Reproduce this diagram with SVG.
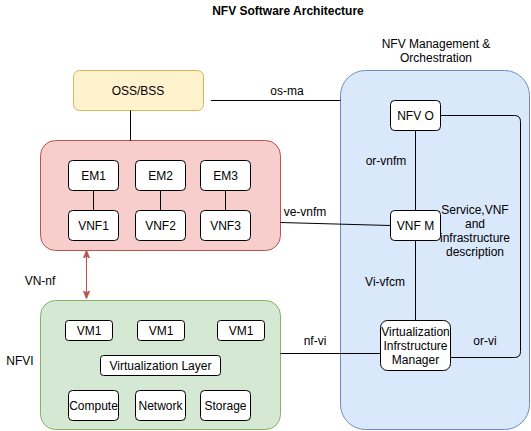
<svg xmlns="http://www.w3.org/2000/svg" width="531" height="431" viewBox="0 0 531 431">
<defs>
<style>
text{font-family:"Liberation Sans",Arial,sans-serif;font-size:12px;fill:#000;text-anchor:middle}
.t{font-weight:bold}
.w{fill:#fff;stroke:#000;stroke-width:1}
.c{fill:none;stroke:#000;stroke-width:1}
</style>
<marker id="ah" viewBox="0 0 10 10" refX="9" refY="5" markerWidth="8" markerHeight="8" orient="auto-start-reverse" markerUnits="userSpaceOnUse">
<path d="M0,1 L10,5 L0,9 L2.5,5 Z" fill="#b85450" stroke="#b85450"/>
</marker>
</defs>
<rect width="531" height="431" fill="#fff"/>
<text class="t" x="288" y="15">NFV Software Architecture</text>

<g id="mano">
<rect x="340.5" y="70.5" width="189" height="359" rx="25" fill="#dae8fc" stroke="#6c8ebf"/>
<text x="436" y="48">NFV Management &amp;</text>
<text x="436" y="62">Orchestration</text>
</g>
<g id="oss">
<rect x="73.5" y="70.5" width="130" height="40" rx="6" fill="#fff2cc" stroke="#d6b656"/>
<text x="138" y="95">OSS/BSS</text>
</g>
<g id="vnf-layer">
<rect x="40.5" y="140.5" width="240" height="110" rx="15" fill="#f8cecc" stroke="#b85450"/>
</g>
<g id="nfvi">
<rect x="40.5" y="300.5" width="240" height="129" rx="15" fill="#d5e8d4" stroke="#82b366"/>
<text x="20" y="365">NFVI</text>
</g>

<g id="connectors">
<line class="c" x1="130.5" y1="110.5" x2="130.5" y2="140.5"/>
<line class="c" x1="211" y1="100.5" x2="340.5" y2="100.5"/>
<line class="c" x1="93.5" y1="190.5" x2="93.5" y2="210.5"/>
<line class="c" x1="160.5" y1="190.5" x2="160.5" y2="210.5"/>
<line class="c" x1="225.5" y1="190.5" x2="225.5" y2="210.5"/>
<line class="c" x1="280.5" y1="222.5" x2="390.5" y2="225.5"/>
<line class="c" x1="415.5" y1="130.5" x2="415.5" y2="210.5"/>
<line class="c" x1="415.5" y1="240.5" x2="415.5" y2="320.5"/>
<path class="c" d="M440.5,115.5 H514.5 Q520.5,115.5 520.5,121.5 V351.5 Q520.5,357.5 514.5,357.5 H450.5"/>
<line class="c" x1="280.5" y1="353.5" x2="380.5" y2="353.5"/>
<line x1="86.5" y1="251" x2="86.5" y2="298" stroke="#b85450" stroke-width="1" marker-start="url(#ah)" marker-end="url(#ah)"/>
<text x="287" y="95">os-ma</text>
<text x="305" y="216">ve-vnfm</text>
<text x="386" y="165">or-vnfm</text>
<text x="385" y="286">Vi-vfcm</text>
<text x="315" y="345">nf-vi</text>
<text x="485" y="345">or-vi</text>
<text x="40" y="285">VN-nf</text>
<text x="475" y="214">Service,VNF</text>
<text x="475" y="228">and</text>
<text x="475" y="242">infrastructure</text>
<text x="475" y="256">description</text>
</g>

<g id="em1"><rect class="w" x="68.5" y="160.5" width="50" height="30" rx="4"/><text x="93.5" y="180">EM1</text></g>
<g id="em2"><rect class="w" x="135.5" y="160.5" width="50" height="30" rx="4"/><text x="160.5" y="180">EM2</text></g>
<g id="em3"><rect class="w" x="200.5" y="160.5" width="50" height="30" rx="4"/><text x="225.5" y="180">EM3</text></g>
<g id="vnf1"><rect class="w" x="68.5" y="210.5" width="50" height="30" rx="4"/><text x="93.5" y="230">VNF1</text></g>
<g id="vnf2"><rect class="w" x="135.5" y="210.5" width="50" height="30" rx="4"/><text x="160.5" y="230">VNF2</text></g>
<g id="vnf3"><rect class="w" x="200.5" y="210.5" width="50" height="30" rx="4"/><text x="225.5" y="230">VNF3</text></g>

<g id="nfvo"><rect class="w" x="390.5" y="100.5" width="50" height="30" rx="4"/><text x="415.5" y="120">NFV O</text></g>
<g id="vnfm"><rect class="w" x="390.5" y="210.5" width="50" height="30" rx="4"/><text x="415.5" y="230">VNF M</text></g>
<g id="vim"><rect class="w" x="380.5" y="320.5" width="70" height="50" rx="7"/>
<text x="415.5" y="336">Virtualization</text><text x="415.5" y="350">Infrstructure</text><text x="415.5" y="364">Manager</text></g>

<g id="vm1a"><rect class="w" x="65.5" y="320.5" width="47" height="20" rx="3"/><text x="89" y="335">VM1</text></g>
<g id="vm1b"><rect class="w" x="137.5" y="320.5" width="47" height="20" rx="3"/><text x="161" y="335">VM1</text></g>
<g id="vm1c"><rect class="w" x="217.5" y="320.5" width="47" height="20" rx="3"/><text x="241" y="335">VM1</text></g>
<g id="virt-layer"><rect class="w" x="100.5" y="355.5" width="120" height="20" rx="3"/><text x="160.5" y="370">Virtualization Layer</text></g>
<g id="compute"><rect class="w" x="68.5" y="390.5" width="50" height="30" rx="4"/><text x="93.5" y="410">Compute</text></g>
<g id="network"><rect class="w" x="135.5" y="390.5" width="50" height="30" rx="4"/><text x="160.5" y="410">Network</text></g>
<g id="storage"><rect class="w" x="200.5" y="390.5" width="50" height="30" rx="4"/><text x="225.5" y="410">Storage</text></g>
</svg>
